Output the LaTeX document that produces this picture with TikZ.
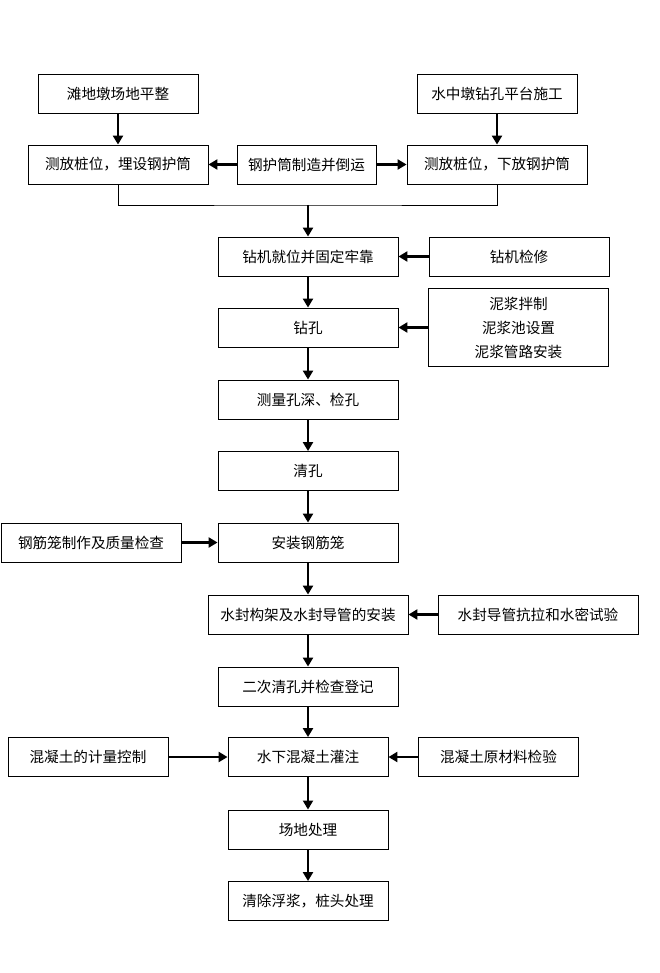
\documentclass[tikz,border=0pt]{standalone}
\usepackage{fontspec}
\setmainfont{Noto Sans CJK SC}
\usetikzlibrary{arrows.meta}

\begin{document}
\begin{tikzpicture}[x=1pt,y=-1pt,->,>={Triangle[length=9pt,width=10pt]},line width=2.8pt]
    \tikzstyle{box}=[draw=black, line width=0.9pt, rectangle, minimum height=39pt, inner sep=0pt, text=black, font=\fontsize{14.6}{24}\selectfont]
    \tikzstyle{mid}=[style=box, minimum width=160pt]
    \tikzstyle{wide}=[style=box, minimum width=180pt]
    \tikzstyle{big}=[style=box, minimum width=200pt]
    \useasboundingbox (0,0) rectangle (660,973);

    \node[mid]  (tan)        at (118,94)    {滩地墩场地平整};
    \node[mid]  (shui)       at (497,94)    {水中墩钻孔平台施工};
    \node[wide] (maishe)     at (118,164.5) {测放桩位，埋设钢护筒};
    \node[box,minimum width=139pt] (hutong) at (306.5,164.5) {钢护筒制造并倒运};
    \node[wide] (xiafang)    at (497,164.5) {测放桩位，下放钢护筒};
    \node[wide] (jiuwei)     at (308,256.5) {钻机就位并固定牢靠};
    \node[wide] (jianxiu)    at (519,256.5) {钻机检修};
    \node[wide] (zuankong)   at (308,327.5) {钻孔};
    \node[wide,minimum height=78pt,align=center] (nijiang) at (518.5,327.5) {泥浆拌制\\泥浆池设置\\泥浆管路安装};
    \node[wide] (jiankong)   at (308,399.5) {测量孔深、检孔};
    \node[wide] (qingkong)   at (308,471)   {清孔};
    \node[wide] (anzhuang)   at (308,542.5) {安装钢筋笼};
    \node[wide] (gangjin)    at (91,542.5)  {钢筋笼制作及质量检查};
    \node[big]  (shuifeng)   at (308,614.5) {水封构架及水封导管的安装};
    \node[big]  (shiyan)     at (538,614.5) {水封导管抗拉和水密试验};
    \node[wide] (erci)       at (308,686.5) {二次清孔并检查登记};
    \node[mid]  (guanzhu)    at (308,757)   {水下混凝土灌注};
    \node[mid]  (jiliang)    at (88,757)    {混凝土的计量控制};
    \node[mid]  (yuanliao)   at (498.5,757) {混凝土原材料检验};
    \node[mid]  (changdi)    at (308,829.5) {场地处理};
    \node[mid]  (zhuangtou)  at (308,901)   {清除浮浆，桩头处理};
    \coordinate (join) at (308,205);

    \draw[-,line width=0.9pt] (maishe.south) |- (join) -| (xiafang.south);
    \path
     (tan)      edge (maishe)
     (shui)     edge (xiafang)
     (hutong)   edge (maishe)
     (hutong)   edge (xiafang)
     (join)     edge (jiuwei)
     (jianxiu)  edge (jiuwei)
     (jiuwei)   edge (zuankong)
     (nijiang)  edge (zuankong)
     (zuankong) edge (jiankong)
     (jiankong) edge (qingkong)
     (qingkong) edge (anzhuang)
     (gangjin)  edge (anzhuang)
     (anzhuang) edge (shuifeng)
     (shiyan)   edge (shuifeng)
     (shuifeng) edge (erci)
     (erci)     edge (guanzhu)
     (jiliang)  edge (guanzhu)
     (yuanliao) edge (guanzhu)
     (guanzhu)  edge[line width=1.8pt] (changdi)
     (changdi)  edge (zhuangtou)
     ;
\end{tikzpicture}
\end{document}
